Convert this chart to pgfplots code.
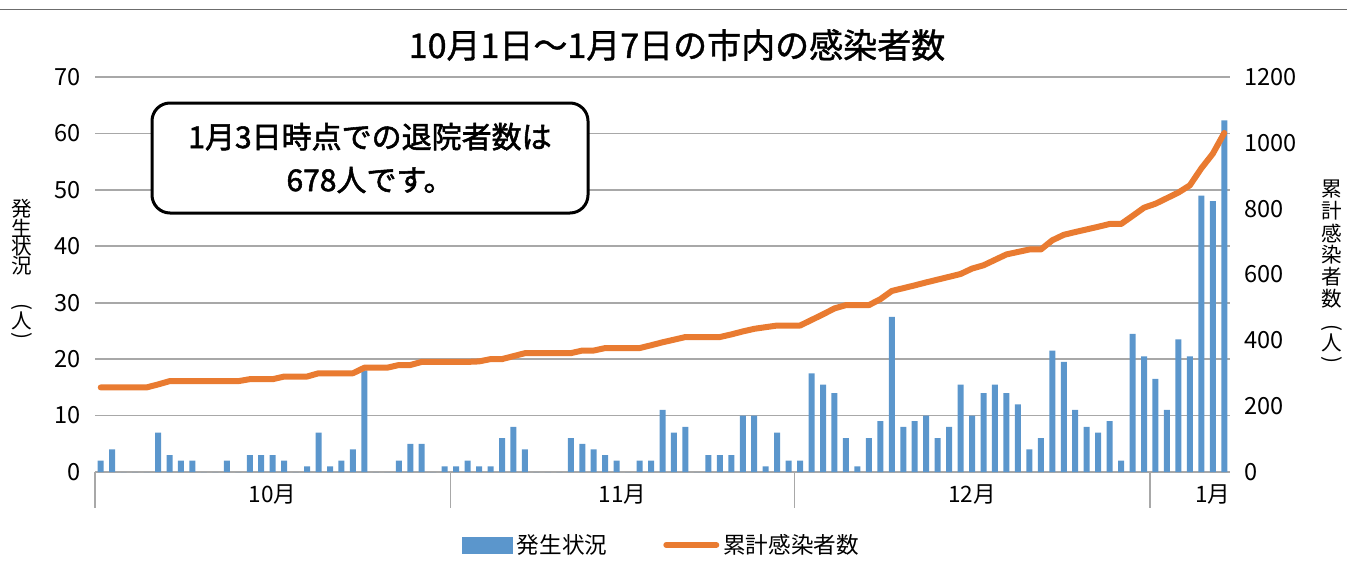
\documentclass[border=0pt]{standalone}
\usepackage{fontspec}
\setmainfont{Noto Sans CJK JP}
\newfontfamily\medfont{Noto Sans CJK JP}[FakeBold=1.2]
\newfontfamily\semifont{Noto Sans CJK JP}[FakeBold=1.8]
\usepackage{pgfplots}
\pgfplotsset{compat=1.18}
\definecolor{barblue}{HTML}{5B96CC}
\definecolor{lineorange}{HTML}{E97B31}
\definecolor{gridgray}{HTML}{A8A8A8}
\begin{document}
\begin{tikzpicture}
\useasboundingbox (0pt,0pt) rectangle (673.5pt,-281pt);
\draw[gray!85!black, line width=0.8pt] (0pt,-4.75pt) -- (673.5pt,-4.75pt);
\begin{axis}[
 at={(47.5pt,-236pt)}, anchor=south west,
 scale only axis, width=567.5pt, height=197.5pt,
 xmin=-0.5, xmax=98.5, ymin=0, ymax=70,
 ytick={0,10,...,70},
 xtick=\empty,
 axis x line*=bottom, axis y line*=left,
 x axis line style={draw=gridgray, line width=0.9pt, -},
 y axis line style={draw=none},
 ytick style={draw=none},
 ymajorgrids, grid style={gridgray, line width=0.8pt},
 yticklabel style={font=\fontsize{11.8}{13}\selectfont, xshift=-3.5pt},
 /pgf/number format/assume math mode=true,
 clip=false,
]
\addplot[ybar, bar width=3pt, fill=barblue, draw=none] coordinates {
(0,2)(1,4)(2,0)(3,0)(4,0)(5,7)(6,3)(7,2)(8,2)(9,0)(10,0)(11,2)(12,0)(13,3)(14,3)(15,3)(16,2)(17,0)(18,1)(19,7)(20,1)(21,2)(22,4)(23,18)(24,0)(25,0)(26,2)(27,5)(28,5)(29,0)(30,1)
(31,1)(32,2)(33,1)(34,1)(35,6)(36,8)(37,4)(38,0)(39,0)(40,0)(41,6)(42,5)(43,4)(44,3)(45,2)(46,0)(47,2)(48,2)(49,11)(50,7)(51,8)(52,0)(53,3)(54,3)(55,3)(56,10)(57,10)(58,1)(59,7)(60,2)
(61,2)(62,17.5)(63,15.5)(64,14)(65,6)(66,1)(67,6)(68,9)(69,27.5)(70,8)(71,9)(72,10)(73,6)(74,8)(75,15.5)(76,10)(77,14)(78,15.5)(79,14)(80,12)(81,4)(82,6)(83,21.5)(84,19.5)(85,11)(86,8)(87,7)(88,9)(89,2)(90,24.5)(91,20.5)
(92,16.5)(93,11)(94,23.5)(95,20.5)(96,49)(97,48)(98,62.3)
};
\draw[gridgray, line width=0.8pt] (axis cs:-0.5,0) -- ++(0pt,-18pt);
\draw[gridgray, line width=0.8pt] (axis cs:30.5,0) -- ++(0pt,-18pt);
\draw[gridgray, line width=0.8pt] (axis cs:60.5,0) -- ++(0pt,-18pt);
\draw[gridgray, line width=0.8pt] (axis cs:91.5,0) -- ++(0pt,-18pt);
\node[font=\fontsize{11.3}{13}\selectfont] at (axis cs:15,0) [yshift=-11.5pt] {10月};
\node[font=\fontsize{11.3}{13}\selectfont] at (axis cs:45.5,0) [yshift=-11.5pt] {11月};
\node[font=\fontsize{11.3}{13}\selectfont] at (axis cs:76,0) [yshift=-11.5pt] {12月};
\node[font=\fontsize{11.3}{13}\selectfont] at (axis cs:97,0) [yshift=-11.5pt] {1月};
\end{axis}
\begin{axis}[
 at={(47.5pt,-236pt)}, anchor=south west,
 scale only axis, width=567.5pt, height=197.5pt,
 xmin=-0.5, xmax=98.5, ymin=0, ymax=1200,
 ytick={0,200,...,1200},
 axis y line*=right, axis x line=none,
 y axis line style={draw=none}, ytick style={draw=none},
 yticklabel style={font=\fontsize{11.8}{13}\selectfont, xshift=3.5pt},
 /pgf/number format/assume math mode=true,
 /pgf/number format/1000 sep={},
 legend style={at={(0.5,-0.1848)}, anchor=center, draw=none, fill=none, legend columns=2,
   font=\fontsize{11.3}{13}\selectfont,
   /tikz/every even column/.append style={column sep=26pt}},
 clip=false,
]
\addlegendimage{legend image code/.code={\fill[barblue] (0pt,-4pt) rectangle (25pt,4pt);}}
\addlegendentry{発生状況}
\addplot[lineorange, line width=3pt, line join=round, line cap=round,
 legend image code/.code={\draw[lineorange, line width=3pt, line cap=round] (0pt,0pt) -- (25pt,0pt);}] coordinates {
(0,257)(1,257)(2,257)(3,257)(4,257)(5,266)(6,276)(7,276)(8,276)(9,276)(10,276)(11,276)(12,276)(13,282)(14,282)(15,282)(16,290)(17,290)(18,290)(19,300)(20,300)(21,300)(22,300)(23,317)(24,317)(25,317)(26,325)(27,325)(28,334.5)(29,334.5)(30,334.5)
(31,334.5)(32,334.5)(33,336)(34,343)(35,343)(36,352)(37,361)(38,361)(39,361)(40,361)(41,361)(42,369)(43,369)(44,376.5)(45,376.5)(46,376.5)(47,376.5)(48,385)(49,394)(50,402)(51,410)(52,410)(53,410)(54,410)(55,418)(56,427)(57,435)(58,440)(59,445)(60,445)
(61,445)(62,462)(63,479)(64,497)(65,507)(66,507)(67,507)(68,525)(69,550)(70,558.5)(71,567)(72,576)(73,584.5)(74,593)(75,601.6)(76,618)(77,628)(78,644.5)(79,661)(80,668.5)(81,676)(82,676)(83,704)(84,720.6)(85,729)(86,737)(87,745)(88,753.5)(89,753.5)(90,778)(91,803)
(92,815)(93,832)(94,849)(95,871)(96,922.6)(97,967)(98,1030)
};
\addlegendentry{累計感染者数}
\end{axis}
% title
\node[font=\fontsize{17}{20}\selectfont\medfont] at (338.5pt,-22.5pt) {10月1日～1月7日の市内の感染者数};
% callout
\draw[black, line width=1.5pt, fill=white, rounded corners=9pt] (76pt,-51.5pt) rectangle (294pt,-106.5pt);
\node[font=\fontsize{15}{21.5}\selectfont\semifont, align=center] at (185pt,-79pt) {1月3日時点での退院者数は\\678人です。};
% y labels
\begin{scope}[font=\fontsize{10.3}{12}\selectfont]
\node at (11pt,-104.5pt) {発};
\node at (11pt,-114pt) {生};
\node at (11pt,-123.5pt) {状};
\node at (11pt,-133pt) {況};
\node[rotate=-90] at (11pt,-153.5pt) {(};
\node at (11pt,-160.5pt) {人};
\node[rotate=-90] at (11pt,-168pt) {)};
\node at (666pt,-94.5pt) {累};
\node at (666pt,-105.5pt) {計};
\node at (666pt,-116.5pt) {感};
\node at (666pt,-127.5pt) {染};
\node at (666pt,-138.5pt) {者};
\node at (666pt,-149.5pt) {数};
\node[rotate=-90] at (666pt,-164pt) {(};
\node at (666pt,-171.5pt) {人};
\node[rotate=-90] at (666pt,-180pt) {)};
\end{scope}
\end{tikzpicture}
\end{document}
